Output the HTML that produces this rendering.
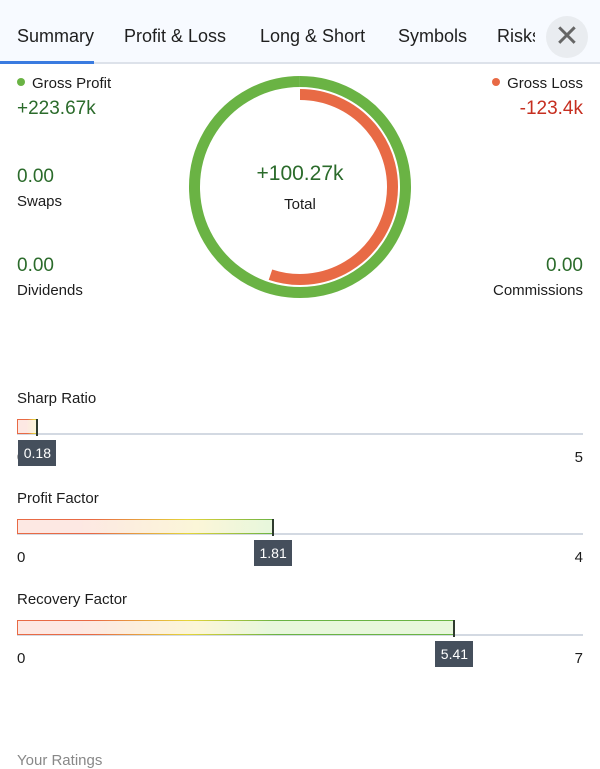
<!DOCTYPE html>
<html><head><meta charset="utf-8"><style>
body{margin:0;width:600px;height:761px;background:#fff;font-family:"Liberation Sans",sans-serif;position:relative;overflow:hidden;color:#1c1c1c}
.a{position:absolute;white-space:nowrap}
.tab{position:absolute;top:26px;font-size:18px;color:#1f1f1f}
.lbl{font-size:15px}
.val{font-size:19px;color:#2b6b2b}
</style></head><body>
<div class="a" style="left:0;top:0;width:600px;height:62px;background:#f7faff;border-bottom:2px solid #dde2ea"></div>
<div class="tab" style="left:17px">Summary</div>
<div class="a" style="left:0;top:61px;width:94px;height:3px;background:#3a7be0"></div>
<div class="tab" style="left:124px">Profit &amp; Loss</div>
<div class="tab" style="left:260px">Long &amp; Short</div>
<div class="tab" style="left:398px">Symbols</div>
<div class="tab" style="left:497px;width:38px;overflow:hidden">Risks</div>
<div class="a" style="left:546px;top:16px;width:42px;height:42px;border-radius:50%;background:#e9ecf0;color:#666;font-size:30px;line-height:42px;text-align:center">✕</div>

<div class="a lbl" style="left:17px;top:75px"><span style="display:inline-block;width:8px;height:8px;border-radius:50%;background:#6ab344;margin-right:7px;vertical-align:2px"></span>Gross Profit</div>
<div class="a val" style="left:17px;top:98px">+223.67k</div>
<div class="a lbl" style="right:17px;top:75px"><span style="display:inline-block;width:8px;height:8px;border-radius:50%;background:#e86a45;margin-right:7px;vertical-align:2px"></span>Gross Loss</div>
<div class="a val" style="right:17px;top:98px;color:#c62f20">-123.4k</div>
<div class="a val" style="left:17px;top:166px">0.00</div>
<div class="a lbl" style="left:17px;top:193px">Swaps</div>
<div class="a val" style="left:17px;top:255px">0.00</div>
<div class="a lbl" style="left:17px;top:282px">Dividends</div>
<div class="a val" style="right:17px;top:255px">0.00</div>
<div class="a lbl" style="right:17px;top:282px">Commissions</div>

<svg class="a" style="left:0;top:0" width="600" height="320" id="donut"></svg>
<div class="a" style="left:200px;width:200px;text-align:center;top:162px;font-size:21px;color:#2b6b2b">+100.27k</div>
<div class="a lbl" style="left:200px;width:200px;text-align:center;top:196px">Total</div>

<div id="bars"></div>
<div class="a lbl" style="left:17px;top:752px;color:#888">Your Ratings</div>

<script>
const grossProfit = 223.67;
const grossLoss = 123.4;
const metricNames = ["Sharp Ratio","Profit Factor","Recovery Factor"];
const metricValues = [0.18,1.81,5.41];
const metricMax = [5,4,7];
const metricValueLabels = ["0.18","1.81","5.41"];

const NS="http://www.w3.org/2000/svg";
const svg=document.getElementById('donut');
const cx=300,cy=187;
function arc(r,frac,color,w,name){
  const a=Math.min(frac,0.9999)*2*Math.PI;
  const x1=cx,y1=cy-r,x2=cx+r*Math.sin(a),y2=cy-r*Math.cos(a);
  const p=document.createElementNS(NS,'path');
  p.setAttribute('d',`M${x1} ${y1} A${r} ${r} 0 ${a>Math.PI?1:0} 1 ${x2} ${y2}`);
  p.setAttribute('fill','none');p.setAttribute('stroke',color);p.setAttribute('stroke-width',w);
  
  
  svg.appendChild(p);
}
const maxV=Math.max(grossProfit,grossLoss);
arc(105.5,grossProfit/maxV,'#6ab344',11,'gross-profit-ring');
arc(92.5,grossLoss/maxV,'#e86a45',11,'gross-loss-arc');

const bars=document.getElementById('bars');
const X0=17,W=566,tops=[390,490,591];
metricNames.forEach((n,i)=>{
  const t=tops[i];
  const sx=v=>X0+v/metricMax[i]*W;
  const ex=sx(metricValues[i]);
  const bw=ex-X0;
  let h='';
  h+=`<div class="a lbl" style="left:17px;top:${t}px">${n}</div>`;
  h+=`<div class="a" style="left:17px;top:${t+43}px;width:566px;height:2px;background:#d3d9e2"></div>`;
  h+=`<div class="a" style="left:17px;top:${t+29}px;width:${bw-2}px;height:13px;border:1.5px solid #e86a45;border-right:none;background:linear-gradient(90deg,#fde8e3 0px,#fde8e3 ${Math.min(bw,150)*0.4}px,#fbf6d8 ${Math.min(bw,200)*0.9}px,#e8f7dc ${Math.min(bw,250)}px,#e8f7dc 100%);border-image:linear-gradient(90deg,#e86a45 0px,#e86a45 ${Math.min(bw,150)*0.5}px,#e6d53a ${Math.min(bw,200)*0.85}px,#6ab344 ${Math.min(bw,260)}px) 1"></div>`;
  h+=`<div class="a" style="left:${ex-1}px;top:${t+29}px;width:2px;height:17px;background:#2e3a2e"></div>`;
  h+=`<div class="a" style="left:17px;top:${t+59}px;font-size:15px">0</div>`;
  h+=`<div class="a" style="right:17px;top:${t+59}px;font-size:15px">${metricMax[i]}</div>`;
  const tl=Math.max(18,ex-19);
  h+=`<div class="a" style="left:${tl}px;top:${t+50}px;width:38px;height:26px;background:#454f5c;color:#fff;font-size:14px;line-height:26px;text-align:center">${metricValueLabels[i]}</div>`;
  const g=document.createElement('div');
  g.innerHTML=h;
  
  
  bars.appendChild(g);
});
</script>
</body></html>
